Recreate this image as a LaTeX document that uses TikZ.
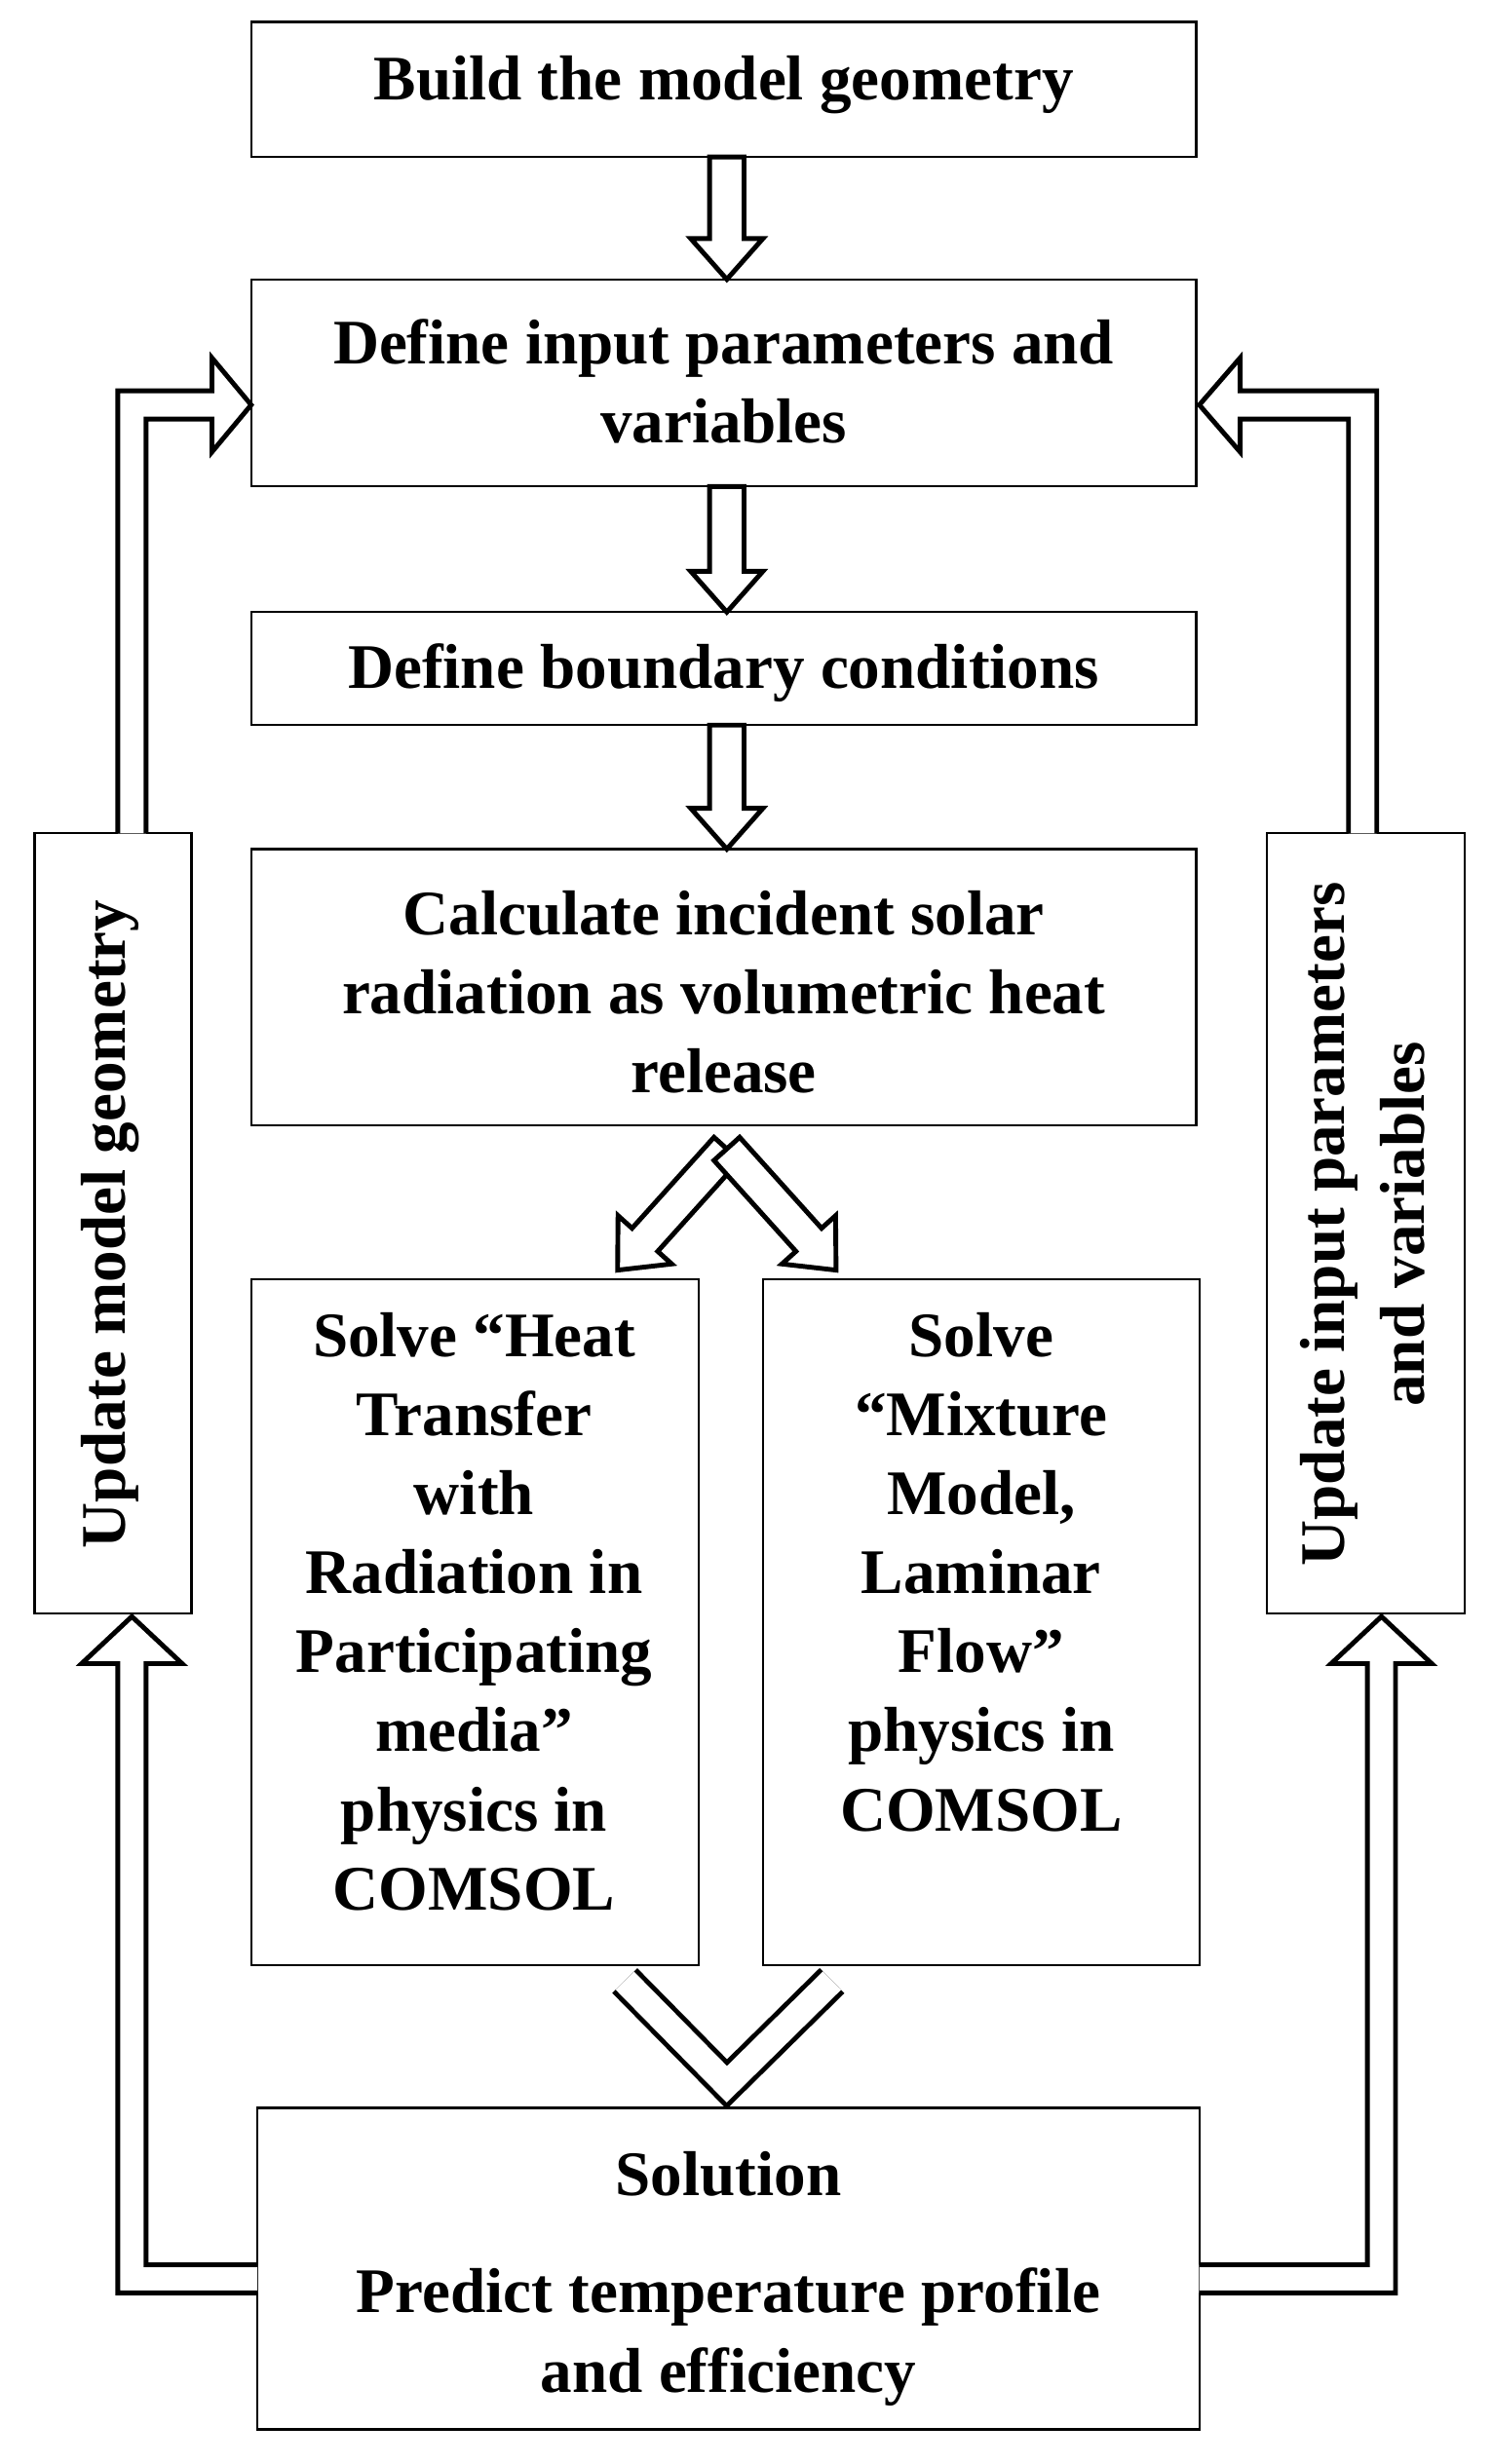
\documentclass[tikz,border=0pt]{standalone}
\usepackage{fontspec}
\setmainfont{Liberation Serif}
\begin{document}
\begin{tikzpicture}[x=0.03cm,y=-0.03cm,
  bx/.style={draw,line width=1.2pt,fill=white},
  tx/.style={font=\fontsize{34.5}{43}\selectfont\bfseries,align=center,inner sep=0pt},
  ar/.style={draw,line width=2.6pt,fill=white,line join=miter}]
\useasboundingbox (0,0) rectangle (950,1570);
\newcommand\sarrow[4]{% x,y,angle,length
  \begin{scope}[shift={(#1,#2)},rotate=#3]
  \draw[ar] (0,-11)--(#4-26,-11)--(#4-26,-23)--(#4,0)--(#4-26,23)--(#4-26,11)--(0,11)--cycle;
  \end{scope}}
% boxes
\draw[bx] (160,14) rectangle (762,100);
\node[tx] (b1) at (461,54) {Build the model geometry};
\draw[bx] (160,178) rectangle (762,310);
\node[tx] (b2) at (461,243) {Define input parameters and\\variables};
\draw[bx] (160,390) rectangle (762,462);
\node[tx] (b3) at (461,429) {Define boundary conditions};
\draw[bx] (160,541) rectangle (762,717);
\node[tx] (b4) at (461,632) {Calculate incident solar\\radiation as volumetric heat\\release};
\draw[bx] (160,815) rectangle (445,1252);
\node[tx,anchor=north] (b5) at (302,836) {Solve “Heat\\Transfer\\with\\Radiation in\\Participating\\media”\\physics in\\COMSOL};
\draw[bx] (486,815) rectangle (764,1252);
\node[tx,anchor=north] (b6) at (625,836) {Solve\\“Mixture\\Model,\\Laminar\\Flow”\\physics in\\COMSOL};
\draw[bx] (164,1343) rectangle (764,1548);
\node[tx] (b7a) at (464,1385) {Solution};
\node[tx] (b7b) at (464,1489) {Predict temperature profile\\and efficiency};
\draw[bx] (22,531) rectangle (122,1028);
\node[tx,rotate=90] (bl) at (70,780) {Update model geometry};
\draw[bx] (807,531) rectangle (933,1028);
\node[tx,rotate=90] (br) at (868,780) {Update input parameters\\and variables};
% straight arrows
\sarrow{463}{100}{-90}{78}
\sarrow{463}{310}{-90}{80}
\sarrow{463}{462}{-90}{79}
\sarrow{463}{732}{-132}{104}
\sarrow{463}{732}{-48}{104}
% bottom chevron
\draw[line width=2.6pt,double,double distance=14pt,line join=miter] (398,1262)--(463,1328)--(530,1262);
% bent arrows
\draw[ar] (164,1443)--(93,1443)--(93,1060)--(116,1060)--(84,1030)--(52,1060)--(75,1060)--(75,1461)--(164,1461);
\draw[ar] (75,531)--(75,249)--(135,249)--(135,228)--(160,258)--(135,288)--(135,267)--(93,267)--(93,531);
\draw[ar] (877,531)--(877,249)--(790,249)--(790,228)--(764,258)--(790,288)--(790,267)--(859,267)--(859,531);
\draw[ar] (764,1443)--(871,1443)--(871,1060)--(848,1060)--(880,1030)--(912,1060)--(889,1060)--(889,1461)--(764,1461);
\end{tikzpicture}
\end{document}
